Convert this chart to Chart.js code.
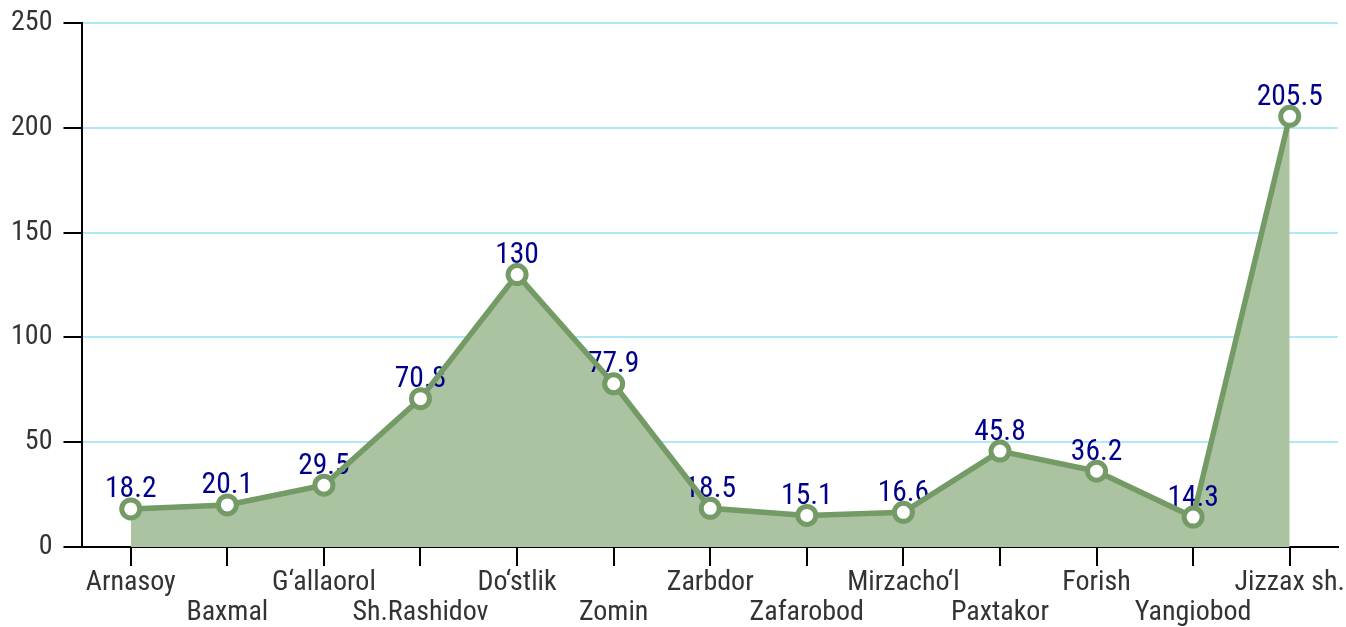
<!DOCTYPE html>
<html>
<head>
<meta charset="utf-8">
<script src="https://cdn.jsdelivr.net/npm/chart.js@4"></script>
<style>
html,body{margin:0;padding:0;background:#fff;}
#wrap{width:1346px;height:627px;}
</style>
</head>
<body>
<div id="wrap"><canvas id="c" width="1346" height="627"></canvas></div>
<script>
const categories = ['Arnasoy','Baxmal','G‘allaorol','Sh.Rashidov','Do‘stlik','Zomin','Zarbdor','Zafarobod','Mirzacho‘l','Paxtakor','Forish','Yangiobod','Jizzax sh.'];
const values = [18.2, 20.1, 29.5, 70.8, 130, 77.9, 18.5, 15.1, 16.6, 45.8, 36.2, 14.3, 205.5];
const yTicks = [0, 50, 100, 150, 200, 250];

const FONT = "'Roboto Condensed', 'Liberation Sans Narrow', 'DejaVu Sans Condensed', Roboto, sans-serif";

const staggered = categories.map((c, i) => i % 2 === 0 ? c : ['', c]);

const labelPlugin = {
  id: 'valueLabels',
  beforeDatasetDraw(chart, args) {
    const meta = chart.getDatasetMeta(args.index);
    const ctx = chart.ctx;
    ctx.save();
    ctx.font = "29.5px " + FONT;
    ctx.fillStyle = '#00008b';
    ctx.textAlign = 'center';
    ctx.textBaseline = 'alphabetic';
    meta.data.forEach((pt, i) => {
      ctx.fillText(String(values[i]), pt.x, pt.y - 11.5);
    });
    ctx.restore();
  }
};

function zeroPad(scale, keys) {
  keys.forEach(k => {
    scale['padding' + k] = 0;
    if (scale._margins) scale._margins[k.toLowerCase()] = 0;
  });
}

new Chart(document.getElementById('c'), {
  type: 'line',
  data: {
    labels: staggered,
    datasets: [{
      data: values,
      borderColor: '#749a66',
      backgroundColor: '#acc3a2',
      fill: 'origin',
      borderWidth: 5.5,
      tension: 0,
      pointRadius: 9,
      pointBorderWidth: 5,
      pointBackgroundColor: '#ffffff',
      pointBorderColor: '#749a66',
      pointHoverRadius: 9
    }]
  },
  options: {
    responsive: false,
    animation: false,
    events: [],
    layout: { autoPadding: false, padding: { top: 23, right: 8, left: 0, bottom: -3 } },
    plugins: { legend: { display: false }, tooltip: { enabled: false } },
    scales: {
      x: {
        offset: true,
        afterFit(scale) { zeroPad(scale, ['Left', 'Right']); },
        border: { color: '#000', width: 2 },
        grid: { offset: false, drawOnChartArea: false, color: '#000', tickColor: '#000', tickLength: 19, lineWidth: 2 },
        ticks: { autoSkip: false, maxRotation: 0, minRotation: 0, color: '#333', padding: 2, font: { family: FONT, size: 28, lineHeight: 1.07 } }
      },
      y: {
        min: 0, max: 250,
        afterBuildTicks(scale) { scale.ticks = yTicks.map(v => ({ value: v })); },
        afterFit(scale) { zeroPad(scale, ['Top', 'Bottom']); },
        border: { color: '#000', width: 2 },
        grid: { color: '#b0e8f6', tickColor: '#000', tickLength: 19, lineWidth: 2 },
        ticks: { color: '#333', padding: 11, font: { family: FONT, size: 28, lineHeight: 1.07 } }
      }
    }
  },
  plugins: [labelPlugin]
});
</script>
</body>
</html>
